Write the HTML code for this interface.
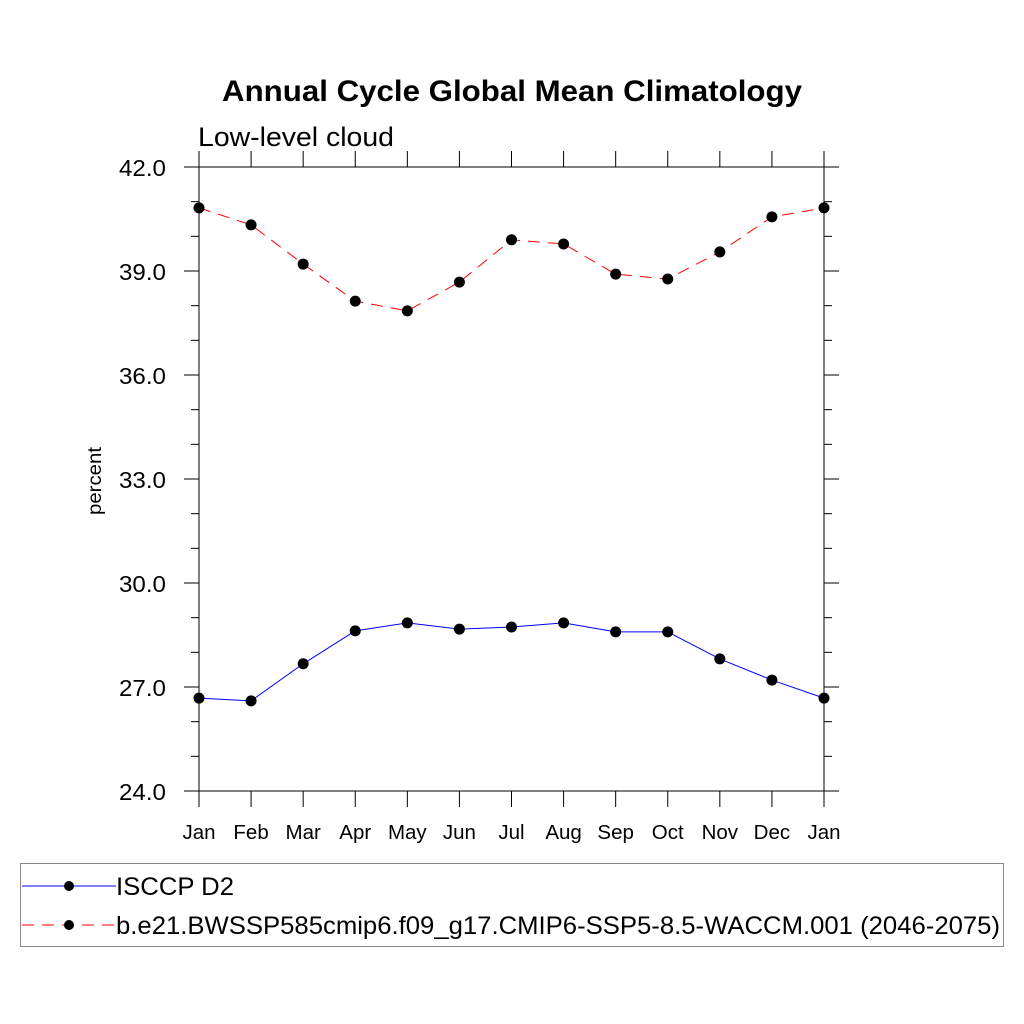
<!DOCTYPE html>
<html><head><meta charset="utf-8"><style>
body{margin:0;background:#fff}
svg{display:block;font-family:"Liberation Sans",sans-serif}
</style></head><body>
<svg id="chart" width="1024" height="1024" viewBox="0 0 1024 1024">
<text x="222" y="101" textLength="580" lengthAdjust="spacingAndGlyphs" font-size="30" font-weight="bold">Annual Cycle Global Mean Climatology</text>
<text x="198" y="146" textLength="196" lengthAdjust="spacingAndGlyphs" font-size="27">Low-level cloud</text>
<text transform="translate(101,481) rotate(-90)" text-anchor="middle" textLength="68" lengthAdjust="spacingAndGlyphs" font-size="19">percent</text>
<g id="axes"></g>
<g id="series"></g>
<g>
<rect x="20.5" y="863.5" width="983" height="83" fill="none" stroke="#888" stroke-width="1"/>
<line x1="22" y1="886" x2="116" y2="886" stroke="#00f" stroke-width="1"/>
<circle cx="69" cy="886" r="5" fill="#000"/>
<text x="116" y="895" textLength="118" lengthAdjust="spacingAndGlyphs" font-size="25">ISCCP D2</text>
<line x1="22" y1="925" x2="116" y2="925" stroke="#f00" stroke-width="1" stroke-dasharray="12,8"/>
<circle cx="69" cy="925" r="5" fill="#000"/>
<text x="116" y="934" textLength="884" lengthAdjust="spacingAndGlyphs" font-size="25">b.e21.BWSSP585cmip6.f09_g17.CMIP6-SSP5-8.5-WACCM.001 (2046-2075)</text>
</g>
</svg>
<script>
const months=["Jan","Feb","Mar","Apr","May","Jun","Jul","Aug","Sep","Oct","Nov","Dec","Jan"];
const isccp=[26.68,26.6,27.67,28.62,28.85,28.67,28.73,28.85,28.59,28.59,27.81,27.2,26.68];
const model=[40.82,40.33,39.2,38.13,37.85,38.68,39.9,39.78,38.91,38.77,39.55,40.56,40.82];
const yTicks=[24,27,30,33,36,39,42];
const yTickLabels=["24.0","27.0","30.0","33.0","36.0","39.0","42.0"];
const NS="http://www.w3.org/2000/svg";
const X0=199,X1=824,Y0=791,Y1=167,YMIN=24,YMAX=42;
const xs=i=>X0+(X1-X0)*i/(months.length-1);
const ys=v=>Y0-(v-YMIN)/(YMAX-YMIN)*(Y0-Y1);
function mk(tag,attrs,parent){const e=document.createElementNS(NS,tag);for(const k in attrs)e.setAttribute(k,attrs[k]);parent.appendChild(e);return e;}
const ax=document.getElementById('axes');
let f=mk('rect',{x:X0,y:Y1,width:X1-X0,height:Y0-Y1,fill:'none',stroke:'#000','stroke-width':1},ax);


for(let v=YMIN;v<=YMAX;v++){
  const y=ys(v),maj=(v-YMIN)%3===0,L=maj?15:8;
  let t=mk('line',{x1:X0-L,y1:y,x2:X0,y2:y,stroke:'#000'},ax);
  
  
  t=mk('line',{x1:X1,y1:y,x2:X1+L,y2:y,stroke:'#000'},ax);
  
  
}
yTicks.forEach((v,i)=>{
  const t=mk('text',{x:166,y:ys(v)+9,'text-anchor':'end','font-size':23.5,textLength:47,lengthAdjust:'spacingAndGlyphs'},ax);
  t.textContent=yTickLabels[i];
  
  
});
months.forEach((m,i)=>{
  const x=xs(i);
  let t=mk('line',{x1:x,y1:Y0,x2:x,y2:Y0+16,stroke:'#000'},ax);
  
  
  t=mk('line',{x1:x,y1:Y1-16,x2:x,y2:Y1,stroke:'#000'},ax);
  
  
  const l=mk('text',{x:x,y:839,'text-anchor':'middle','font-size':20.5},ax);
  l.textContent=m;
  
  
});
const sg=document.getElementById('series');
function series(vals,color,dash,name){
  const p=mk('polyline',{points:vals.map((v,i)=>xs(i)+','+ys(v)).join(' '),fill:'none',stroke:color,'stroke-width':1,'stroke-dasharray':dash},sg);
  
  
  vals.forEach((v,i)=>{
    const c=mk('circle',{cx:xs(i),cy:ys(v),r:5.5,fill:'#000'},sg);
    
    
  });
}
series(model,'#f00','12,8','model');
series(isccp,'#00f','none','isccp');
</script>
</body></html>
